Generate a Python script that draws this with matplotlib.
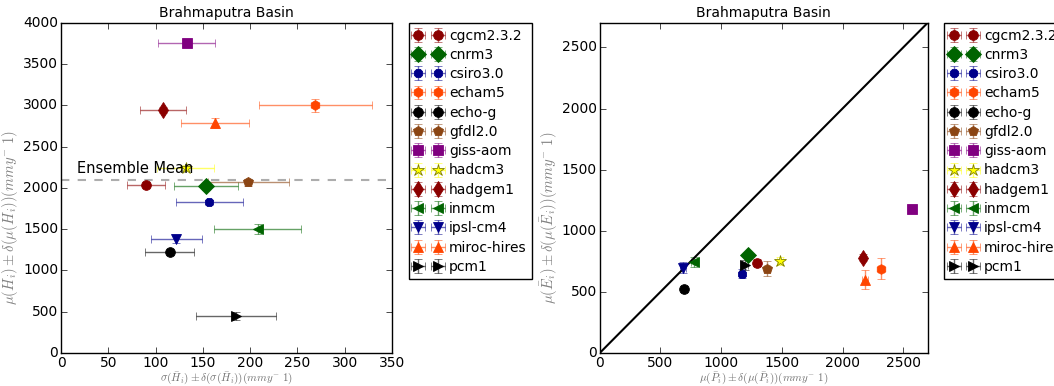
import matplotlib
matplotlib.use("Agg")
import matplotlib.pyplot as plt
from matplotlib.colors import to_rgba

# model names, styles
models = ["cgcm2.3.2", "cnrm3", "csiro3.0", "echam5", "echo-g", "gfdl2.0", "giss-aom",
          "hadcm3", "hadgem1", "inmcm", "ipsl-cm4", "miroc-hires", "pcm1"]
colors = ["darkred", "darkgreen", "darkblue", "orangered", "black", "saddlebrown", "purple",
          "yellow", "darkred", "darkgreen", "darkblue", "orangered", "black"]
markers = ["o", "D", "8", "h", "o", "p", "s", "*", "d", "<", "v", "^", ">"]
msizes = [7, 8.5, 6.5, 7, 7, 7, 7, 9, 8.5, 7, 7, 7, 7]

# left panel: sigma(H) vs mu(H)
sig_h = [90, 153, 157, 269, 115, 198, 133, 132, 108, 208, 122, 163, 185]
sig_h_err = [20, 34, 35, 60, 26, 43, 30, 30, 24, 46, 27, 36, 42]
mu_h = [2040, 2020, 1826, 3004, 1219, 2070, 3757, 2247, 2947, 1502, 1380, 2790, 445]
mu_h_err = [30, 40, 30, 80, 30, 40, 30, 30, 40, 60, 50, 60, 50]
ens_mean = 2097

# right panel: mu(P) vs mu(E)
mu_p = [1298, 1221, 1172, 2319, 691, 1380, 2569, 1485, 2171, 779, 686, 2187, 1196]
mu_p_err = [25, 25, 25, 25, 25, 25, 25, 25, 25, 25, 25, 25, 25]
mu_e = [740, 800, 650, 690, 524, 690, 1176, 753, 781, 745, 696, 600, 718]
mu_e_err = [30, 30, 35, 85, 25, 60, 30, 30, 30, 40, 45, 75, 40]

plt.style.use("classic")
plt.rcParams["figure.facecolor"] = "white"
plt.rcParams["savefig.facecolor"] = "white"
plt.rcParams["font.size"] = 10
plt.rcParams["mathtext.fontset"] = "cm"
plt.rcParams["xtick.major.pad"] = 2
plt.rcParams["ytick.major.pad"] = 2

fig = plt.figure(figsize=(10.54, 3.86), dpi=100)
ax1 = fig.add_axes([0.0579, 0.0855, 0.314, 0.855])
ax2 = fig.add_axes([0.569, 0.0855, 0.311, 0.855])


def panel(ax, x, xe, y, ye):
    for i, m in enumerate(models):
        ax.errorbar(x[i], y[i], xerr=xe[i], yerr=ye[i], fmt=markers[i], color=colors[i],
                    ecolor=to_rgba(colors[i], 0.6), mec=colors[i] if colors[i] != "yellow" else "olive",
                    mew=0.6, ms=msizes[i], capsize=3, label=m)
    ax.legend(loc="upper left", bbox_to_anchor=(1.05, 1.0), numpoints=2, fontsize=10,
              borderaxespad=0, handlelength=2.0, handletextpad=0.5, labelspacing=0.38, borderpad=0.4)
    ax.set_title("Brahmaputra Basin", fontsize=10, pad=4)


panel(ax1, sig_h, sig_h_err, mu_h, mu_h_err)
ax1.axhline(ens_mean, color="0.6", ls="--", lw=1.5, alpha=0.8)
ax1.text(17, ens_mean + 45, "Ensemble Mean", fontsize=10.5, va="bottom")
ax1.set_xlim(0, 350)
ax1.set_ylim(0, 4000)
ax1.set_xlabel(r"$\sigma(\bar{H}_i)\pm\delta(\sigma(\bar{H}_i))(mmy^{-}\ 1)$", color="0.45",
               fontsize=8, labelpad=1)
ax1.set_ylabel(r"$\mu(\bar{H}_i)\pm\delta(\mu(\bar{H}_i))(mmy^{-}\ 1)$", color="0.5",
               fontsize=10.5)
ax1.yaxis.set_label_coords(-0.12, 0.41)

panel(ax2, mu_p, mu_p_err, mu_e, mu_e_err)
ax2.plot([0, 2700], [0, 2700], color="black", lw=1.5)
ax2.set_xlim(0, 2700)
ax2.set_ylim(0, 2700)
ax2.set_xticks([0, 500, 1000, 1500, 2000, 2500])
ax2.set_yticks([0, 500, 1000, 1500, 2000, 2500])
ax2.set_xlabel(r"$\mu(\bar{P}_i)\pm\delta(\mu(\bar{P}_i))(mmy^{-}\ 1)$", color="0.45",
               fontsize=8, labelpad=1)
ax2.set_ylabel(r"$\mu(\bar{E}_i)\pm\delta(\mu(\bar{E}_i))(mmy^{-}\ 1)$", color="0.5",
               fontsize=10.5)
ax2.yaxis.set_label_coords(-0.12, 0.41)

fig.savefig("out.png", dpi=100)
